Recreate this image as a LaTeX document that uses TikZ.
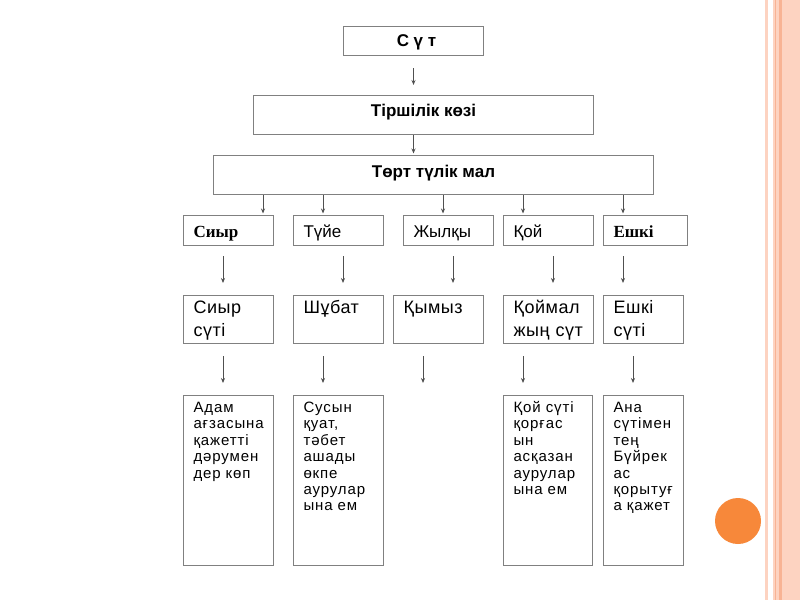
\documentclass[tikz,border=0pt]{standalone}
\usepackage{fontspec}
\setmainfont{Liberation Sans}
\newfontfamily\timesfont{Liberation Serif}
\newfontfamily\milkfont{Liberation Sans}[LetterSpace=3]
\newfontfamily\notefont{Liberation Sans}[LetterSpace=6]
\usetikzlibrary{arrows.meta}

\definecolor{boxgray}{HTML}{808080}
\definecolor{linegray}{HTML}{505050}
\definecolor{peach}{HTML}{FDD3C1}
\definecolor{peachdark}{HTML}{F8B394}
\definecolor{dotorange}{HTML}{F7883A}

\begin{document}
\begin{tikzpicture}[x=1pt, y=-1pt, >={Stealth[length=5pt,width=4pt]},
	box/.style={draw=boxgray, line width=1pt, anchor=north west, inner ysep=0pt},
	headbox/.style={box, font=\bfseries\fontsize{17}{20}\selectfont},
	animal/.style={box, inner xsep=10pt, align=left, text height=22pt, text depth=8pt, font=\fontsize{17}{20}\selectfont},
	milk/.style={box, inner xsep=10pt, align=left, text height=18pt, text depth=30pt, font=\milkfont\fontsize{18}{23}\selectfont},
	note/.style={box, inner xsep=10pt, align=left, text height=17pt, text depth=153pt, font=\notefont\fontsize{15}{16.4}\selectfont},
	arrow/.style={->, draw=linegray, line width=0.8pt}]
		% Page
		\useasboundingbox (0,0) rectangle (800,600);
		\fill[white] (0,0) rectangle (800,600);
		% Side stripes
		\fill[peach] (765,0) rectangle (768,600);
		\fill[peach] (773,0) rectangle (800,600);
		\fill[peachdark] (775,0) rectangle (776,600);
		\fill[peachdark] (779,0) rectangle (782,600);
		\fill[dotorange] (738,521) circle (23pt);
		% Top boxes
		\node[headbox, minimum width=140pt, text height=20pt, text depth=9pt] (sut) at (343,26) {\hspace{6pt}С ү т};
		\node[headbox, minimum width=340pt, text height=21pt, text depth=18pt] (tirshilik) at (253,95) {Тіршілік көзі};
		\node[headbox, minimum width=440pt, text height=22pt, text depth=17pt] (tort) at (213,155) {Төрт түлік мал};
		% Animals
		\node[animal, text width=70pt, font=\timesfont\bfseries\fontsize{17}{20}\selectfont] (siyr) at (183,215) {Сиыр};
		\node[animal, text width=70pt] (tuie) at (293,215) {Түйе};
		\node[animal, text width=70pt] (zhylqy) at (403,215) {Жылқы};
		\node[animal, text width=70pt] (qoi) at (503,215) {Қой};
		\node[animal, text width=64pt, font=\timesfont\bfseries\fontsize{17}{20}\selectfont] (eshki) at (603,215) {Ешкі};
		% Milks
		\node[milk, text width=70pt] (siyrsut) at (183,295) {Сиыр\\сүті};
		\node[milk, text width=70pt] (shubat) at (293,295) {Шұбат};
		\node[milk, text width=70pt] (qymyz) at (393,295) {Қымыз};
		\node[milk, text width=70pt] (qoimal) at (503,295) {Қоймал\\жың~сүт};
		\node[milk, text width=60pt] (eshkisut) at (603,295) {Ешкі\\сүті};
		% Uses
		\node[note, text width=70pt] (adam) at (183,395) {Адам\\ағзасына\\қажетті\\дәрумен\\дер~көп};
		\node[note, text width=70pt] (susyn) at (293,395) {Сусын\\қуат,\\тәбет\\ашады\\өкпе\\аурулар\\ына~ем};
		\node[note, text width=69pt] (qoisut) at (503,395) {Қой~сүті\\қорғас\\ын\\асқазан\\аурулар\\ына~ем};
		\node[note, text width=60pt] (ana) at (603,395) {Ана\\сүтімен\\тең\\Бүйрек\\ас\\қорытуғ\\а~қажет};
		\coordinate (qymyzend) at (423,395);
		% Arrows
		\draw[arrow, shorten <=12pt, shorten >=10pt] (sut.south) -- (sut.south |- tirshilik.north);
		\draw[arrow, shorten >=1.5pt] (tirshilik.south -| sut.south) -- (tort.north -| sut.south);
		\foreach \to/\x in {siyr/263, tuie/323, zhylqy/443, qoi/523, eshki/623}
			\draw[arrow, shorten >=1.5pt] (tort.south -| \x,0) -- (\to.north -| \x,0);
		\foreach \from/\to/\x in {siyr/siyrsut/223, tuie/shubat/343, zhylqy/qymyz/453, qoi/qoimal/553, eshki/eshkisut/623}
			\draw[arrow, shorten <=10pt, shorten >=12pt] (\from.south -| \x,0) -- (\to.north -| \x,0);
		\foreach \from/\to/\x in {siyrsut/adam/223, shubat/susyn/323, qoimal/qoisut/523, eshkisut/ana/633}
			\draw[arrow, shorten <=12pt, shorten >=12pt] (\from.south -| \x,0) -- (\to.north -| \x,0);
		\draw[arrow, shorten <=12pt, shorten >=12pt] (qymyz.south -| qymyzend) -- (qymyzend);
	\end{tikzpicture}
\end{document}
